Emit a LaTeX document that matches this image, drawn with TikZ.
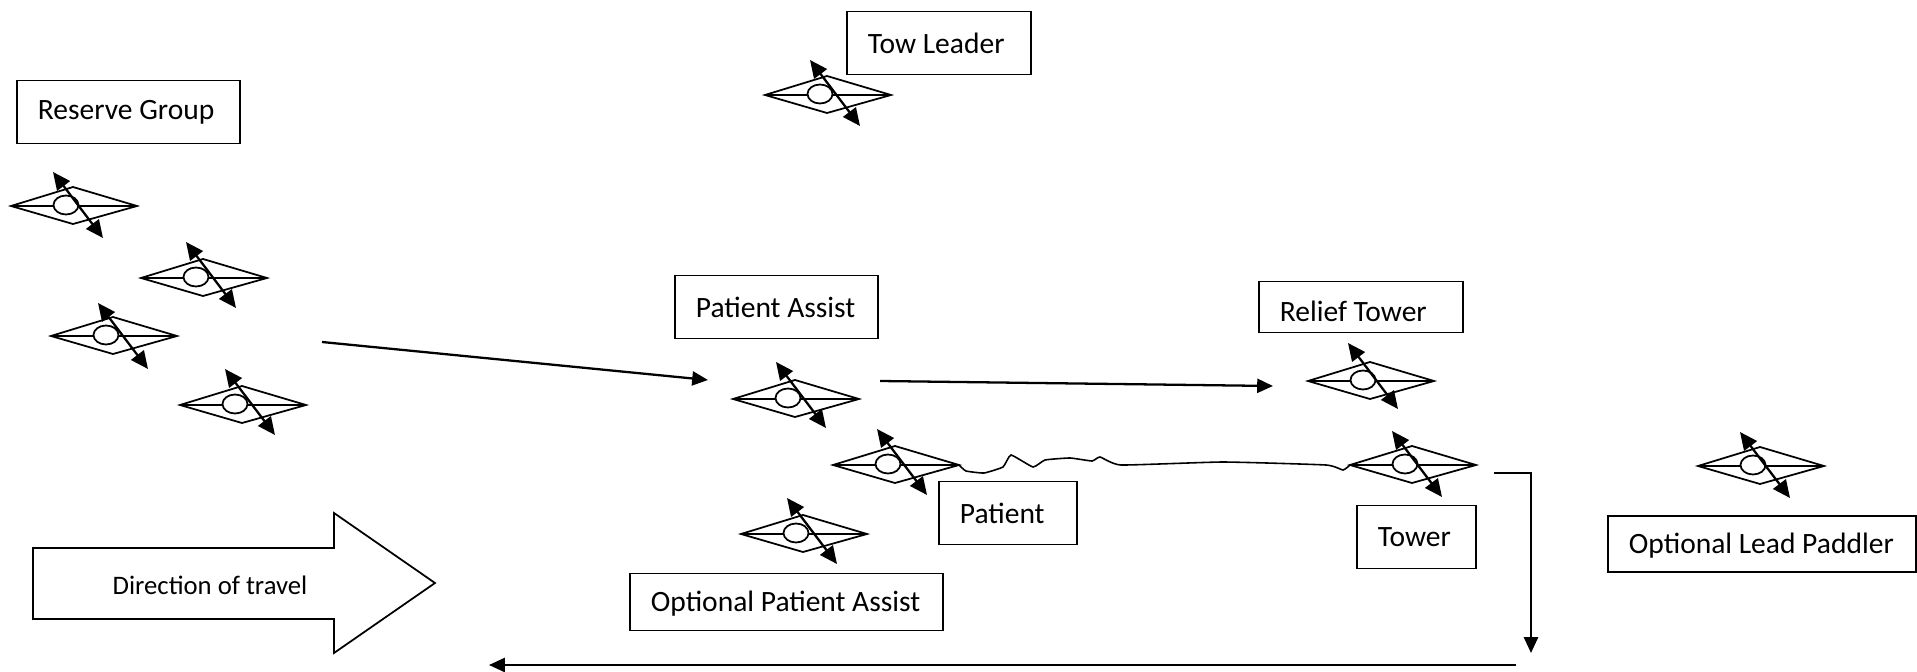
\documentclass[tikz,border=0pt]{standalone}
\usepackage{fontspec}
\setmainfont{Carlito}
\usetikzlibrary{arrows.meta}
\tikzset{
	labelbox/.style={draw,line width=1pt,anchor=west,align=flush left,inner xsep=0.42cm,inner ysep=0pt,font=\fontsize{16.8}{20}\selectfont},
	route/.style={line width=1.3pt,-{Triangle[length=9pt,width=8pt]}},
	pics/kayak/.style args={#1/#2}{code={
		\draw[line width=1pt] (-63,0) -- (-1,-19) -- (63,0) -- (-1,18) -- cycle;
		\draw[line width=1pt] (-63,0) -- (63,0);
		\draw[line width=1pt,fill=white] (-8,-1) ellipse (12.5 and 9.5);
		\draw[line width=1.3pt,{Triangle[length=10pt,width=9pt]}-{Triangle[length=10pt,width=9pt]}] (-21+#1,-34+#2) -- (29+#1,32+#2);
		\coordinate (-stern) at (-63,0);
		\coordinate (-bow) at (63,0);
	}}
}
\begin{document}
\begin{tikzpicture}[x=0.02cm,y=-0.02cm]
	\useasboundingbox (0,0) rectangle (1917,672);
	% reserve group
	\foreach \kx/\ky/\ax/\ay [count=\ki] in {74/206/0/0,204/278/3/-2,114/336/5/1,243/405/3/-2}
		\pic (res\ki) at (\kx,\ky) {kayak=\ax/\ay};
	\pic (towlead) at (828,95) {kayak=3/-1};
	\pic (assist) at (796,399) {kayak=1/-3};
	\pic (patient) at (896,465) {kayak=2/-2};
	\pic (optassist) at (804,534) {kayak=4/-2};
	\pic (relief) at (1371,381) {kayak=-2/-4};
	\pic (tower) at (1413,465) {kayak=0/0};
	\pic (lead) at (1761,466) {kayak=0/0};
	% labels
	\node[labelbox,text width=2.84cm,minimum height=1.26cm] (towleadbox) at (846,43) {Tow Leader};
	\node[labelbox,text width=3.62cm,minimum height=1.26cm] (resbox) at (16,112) {Reserve Group};
	\node[labelbox,text width=3.22cm,minimum height=1.26cm] (assistbox) at (674,307) {Patient Assist};
	\node[labelbox,text width=3.24cm,minimum height=1.02cm] (reliefbox) at (1258,307) {\raisebox{-3pt}[11pt][0pt]{Relief Tower}};
	\node[labelbox,text width=1.92cm,minimum height=1.26cm] (patientbox) at (938,513) {Patient};
	\node[labelbox,text width=1.54cm,minimum height=1.26cm] (towerbox) at (1356,537) {Tower};
	\node[labelbox,text width=5.32cm,minimum height=1.12cm] (leadbox) at (1607,544) {\raisebox{-1.5pt}[11pt][3pt]{Optional Lead Paddler}};
	\node[labelbox,text width=5.42cm,minimum height=1.14cm] (optassistbox) at (629,602) {\raisebox{-1.5pt}[11pt][3pt]{Optional Patient Assist}};
	% direction of travel
	\draw[line width=1pt] (33,548) -- (334,548) -- (334,513) -- (435,583) -- (334,653) -- (334,619) -- (33,619) -- cycle;
	\node[font=\fontsize{15.2}{18}\selectfont] (travel) at (210,585) {Direction of travel};
	% moves
	\coordinate (move1a) at (322,342);
	\coordinate (move1b) at (708,380);
	\coordinate (move2a) at (880,381);
	\coordinate (move2b) at (1273,386);
	\coordinate (move3a) at (1494,473);
	\coordinate (move3b) at (1531,653);
	\coordinate (move4a) at (1516,665);
	\coordinate (move4b) at (489,665);
	\draw[route] (move1a) -- (move1b);
	\draw[route] (move2a) -- (move2b);
	\draw[route] (move3a) -| (move3b);
	\draw[route] (move4a) -- (move4b);
	% tow line
	\draw[line width=0.9pt] plot[smooth,tension=0.25] coordinates {(patient-bow) (966,471) (984,473) (1003,467) (1011,455) (1033,467) (1045,460) (1070,458) (1092,461) (1100,457) (1121,465) (1223,462) (1326,465) (1343,470) (tower-stern)};
\end{tikzpicture}
\end{document}
